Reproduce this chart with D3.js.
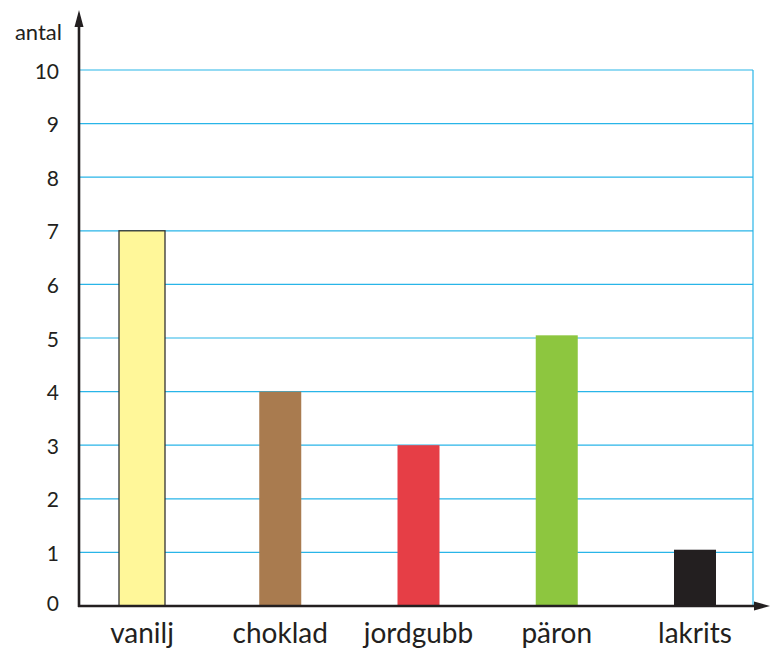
<!DOCTYPE html>
<html>
<head>
<meta charset="utf-8">
<script src="https://cdn.jsdelivr.net/npm/d3@7"></script>
<style>
  body { margin: 0; background: #fff; }
  text { font-family: "Lato", "Open Sans", sans-serif; fill: #231f20; }
</style>
</head>
<body>
<div id="chart"></div>
<script>
// chart data
var flavours = ["vanilj", "choklad", "jordgubb", "päron", "lakrits"];
var counts = [7, 4, 3, 5.05, 1.05];
var barColors = ["#fff799", "#a97b4f", "#e63e46", "#8dc63f", "#231f20"];
var yTicks = [0, 1, 2, 3, 4, 5, 6, 7, 8, 9, 10];

const width = 770, height = 650;
const plotLeft = 79, plotRight = 753, plotTop = 70, plotBottom = 606;

var svg = d3.select("#chart").append("svg")
    .attr("width", width)
    .attr("height", height);

var y_scale = d3.scaleLinear().domain([0, 10]).range([plotBottom, plotTop]);
var x_scale = d3.scalePoint().domain(flavours).range([142, 695]);

// gridlines
svg.selectAll("line.grid")
    .data(yTicks.filter(d => d > 0))
    .enter()
    .append("line")
    .attr("class", "grid")
    .attr("x1", plotLeft).attr("x2", plotRight)
    .attr("y1", d => y_scale(d)).attr("y2", d => y_scale(d))
    .attr("stroke", "#29b5e8")
    .attr("stroke-width", 1.2);

// right border
svg.append("line")
    .attr("x1", plotRight).attr("x2", plotRight)
    .attr("y1", y_scale(10)).attr("y2", plotBottom)
    .attr("stroke", "#29b5e8")
    .attr("stroke-width", 1.2);

// bars
var barW = 42;
svg.selectAll("rect.bar")
    .data(flavours)
    .enter()
    .append("rect")
    .attr("class", "bar")
    .attr("x", (d, i) => x_scale(d) - (i == 0 ? 23 : barW / 2))
    .attr("width", (d, i) => i == 0 ? 46 : barW)
    .attr("y", (d, i) => y_scale(counts[i]))
    .attr("height", (d, i) => plotBottom - y_scale(counts[i]))
    .attr("fill", (d, i) => barColors[i])
    .attr("stroke", (d, i) => i == 0 ? "#333" : "none")
    .attr("stroke-width", 1.3);

// y tick labels
svg.selectAll("text.tick")
    .data(yTicks)
    .enter()
    .append("text")
    .attr("class", "tick")
    .attr("x", 59)
    .attr("y", d => y_scale(d) - (d == 0 ? 4 : 0))
    .attr("text-anchor", "end")
    .attr("dominant-baseline", "central")
    .style("font-size", "21px")
    .text(d => d);

// category labels
svg.selectAll("text.cat")
    .data(flavours)
    .enter()
    .append("text")
    .attr("class", "cat")
    .attr("x", d => x_scale(d))
    .attr("y", 643)
    .attr("text-anchor", "middle")
    .style("font-size", "28px")
    .text(d => d);

// axes with arrows
svg.append("line")
    .attr("x1", plotLeft).attr("x2", plotLeft)
    .attr("y1", plotBottom + 1).attr("y2", 24)
    .attr("stroke", "#231f20").attr("stroke-width", 2.6);
svg.append("path")
    .attr("d", "M" + plotLeft + ",10 L" + (plotLeft - 4.5) + ",27 L" + (plotLeft + 4.5) + ",27 Z")
    .attr("fill", "#231f20");

svg.append("line")
    .attr("x1", plotLeft - 1).attr("x2", 756)
    .attr("y1", plotBottom).attr("y2", plotBottom)
    .attr("stroke", "#231f20").attr("stroke-width", 2.6);
svg.append("path")
    .attr("d", "M770," + plotBottom + " L754," + (plotBottom - 4.5) + " L754," + (plotBottom + 4.5) + " Z")
    .attr("fill", "#231f20");

// axis title
svg.append("text")
    .attr("x", 62)
    .attr("y", 40)
    .attr("text-anchor", "end")
    .style("font-size", "22px")
    .text("antal");
</script>
</body>
</html>
